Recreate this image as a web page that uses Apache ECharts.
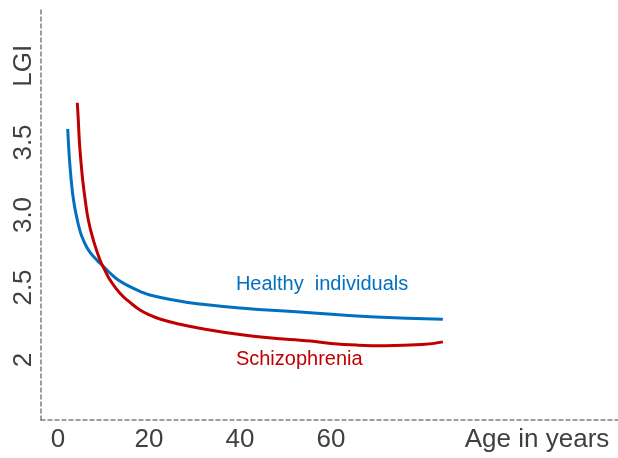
<!DOCTYPE html>
<html>
<head>
<meta charset="utf-8">
<script src="https://cdn.jsdelivr.net/npm/echarts@6/dist/echarts.min.js"></script>
<style>
html,body{margin:0;padding:0;background:#fff;}
#chart{width:618px;height:458px;}
</style>
</head>
<body>
<div id="chart"></div>
<script>
// Age (years), LGI
const healthyAge = [2.13, 2.26, 2.53, 2.90, 3.41, 4.11, 4.84, 5.56, 6.81, 8.51, 9.89, 11.43, 13.25, 15.82, 18.0, 20.2, 26.0, 31.2, 40.0, 53.2, 68.6, 84.6];
const healthyLGI = [3.593, 3.517, 3.379, 3.241, 3.103, 2.985, 2.890, 2.828, 2.752, 2.690, 2.648, 2.600, 2.552, 2.506, 2.474, 2.448, 2.410, 2.386, 2.359, 2.331, 2.299, 2.281];
const schizoAge = [4.24, 4.46, 4.68, 5.01, 5.43, 5.98, 6.66, 7.76, 9.23, 10.33, 11.43, 13.63, 15.82, 18.02, 20.2, 22.4, 26.8, 31.2, 40.0, 48.0, 53.2, 56.5, 60.0, 66.0, 72.0, 80.0, 84.6];
const schizoLGI = [3.774, 3.655, 3.517, 3.379, 3.241, 3.103, 2.966, 2.828, 2.690, 2.617, 2.552, 2.460, 2.397, 2.345, 2.310, 2.283, 2.246, 2.219, 2.175, 2.148, 2.136, 2.128, 2.114, 2.102, 2.098, 2.106, 2.125];

const yTickValues = [2, 2.5, 3, 3.5, 4.03];
const yTickLabels = ['2', '2.5', '3.0', '3.5', 'LGI'];
const xTickValues = [0, 20, 40, 60, 105.3];
const xTickLabels = ['0', '20', '40', '60', 'Age in years'];

const healthyLabel = {text: 'Healthy  individuals', age: 39.1, lgi: 2.522};
const schizoLabel = {text: 'Schizophrenia', age: 39.1, lgi: 2.0};

const zip = (a, b) => a.map((v, i) => [v, b[i]]);

const chart = echarts.init(document.getElementById('chart'));
const font = '"Liberation Sans", Arial, sans-serif';
const axisLineStyle = {color: '#7f7f7f', width: 1.5, type: [4, 3]};

chart.setOption({
  animation: false,
  grid: {left: 41, top: 10, right: 0, bottom: 38},
  xAxis: {
    type: 'value', min: -3.74, max: 123.1,
    splitLine: {show: false},
    axisTick: {show: false},
    axisLine: {show: true, onZero: false, lineStyle: axisLineStyle},
    axisLabel: {
      customValues: xTickValues,
      formatter: v => { const i = xTickValues.indexOf(v); return i >= 0 ? xTickLabels[i] : ''; },
      color: '#404040', fontSize: 26, fontFamily: font, margin: 7
    }
  },
  yAxis: {
    type: 'value', min: 1.586, max: 4.414,
    splitLine: {show: false},
    axisTick: {show: false},
    axisLine: {show: true, onZero: false, lineStyle: axisLineStyle},
    axisLabel: {
      customValues: yTickValues,
      rotate: 90,
      formatter: v => { const i = yTickValues.indexOf(v); return i >= 0 ? yTickLabels[i] : ''; },
      color: '#404040', fontSize: 26, fontFamily: font, margin: 4
    }
  },
  series: [
    {
      type: 'line', name: 'Healthy individuals',
      data: zip(healthyAge, healthyLGI),
      smooth: 0.5, showSymbol: false, symbol: 'none',
      lineStyle: {color: '#0070C0', width: 3},
      markPoint: {
        symbol: 'circle', symbolSize: 0,
        data: [{coord: [healthyLabel.age, healthyLabel.lgi]}],
        label: {show: true, position: 'right', distance: 0, formatter: healthyLabel.text,
                color: '#0070C0', fontSize: 20, fontFamily: font}
      }
    },
    {
      type: 'line', name: 'Schizophrenia',
      data: zip(schizoAge, schizoLGI),
      smooth: 0.5, showSymbol: false, symbol: 'none',
      lineStyle: {color: '#C00000', width: 3},
      markPoint: {
        symbol: 'circle', symbolSize: 0,
        data: [{coord: [schizoLabel.age, schizoLabel.lgi]}],
        label: {show: true, position: 'right', distance: 0, formatter: schizoLabel.text,
                color: '#C00000', fontSize: 20, fontFamily: font}
      }
    }
  ]
});
</script>
</body>
</html>
